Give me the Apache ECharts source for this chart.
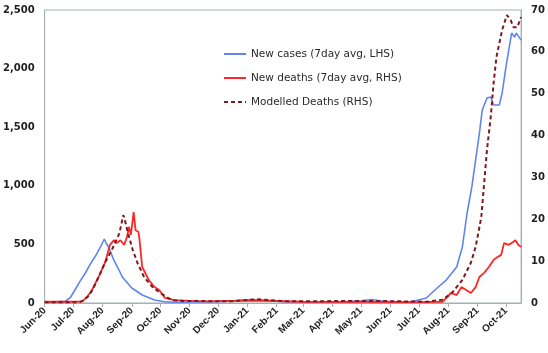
<!DOCTYPE html>
<html lang="en">
<head>
    <meta charset="UTF-8">
    <title>Cases and deaths</title>
    <script src="https://cdn.jsdelivr.net/npm/echarts@6/dist/echarts.min.js"></script>
    <style>
        html, body { margin: 0; padding: 0; background: #fff; }
    </style>
</head>
<body>
<div id="main" style="width: 548px;height:353px;"></div>
<script type="text/javascript">
    // daily categories Jun-20 .. mid Oct-21
    var categories = [];
    for (var t = Date.UTC(2020, 5, 1); t <= Date.UTC(2021, 9, 17); t += 86400000) {
        categories.push(new Date(t).toISOString().slice(0, 10));
    }
    var monthNames = ['Jan', 'Feb', 'Mar', 'Apr', 'May', 'Jun', 'Jul', 'Aug', 'Sep', 'Oct', 'Nov', 'Dec'];

    var seriesNames = ['New cases (7day avg, LHS)', 'New deaths (7day avg, RHS)', 'Modelled Deaths (RHS)'];

    // LHS
    var casesData = [
        ['2020-06-01', 8], ['2020-06-12', 10], ['2020-06-23', 15], ['2020-06-28', 45], ['2020-07-03', 111],
        ['2020-07-08', 180], ['2020-07-14', 256], ['2020-07-19', 330], ['2020-07-24', 392], ['2020-07-30', 478],
        ['2020-08-03', 546], ['2020-08-05', 510], ['2020-08-08', 469], ['2020-08-13', 367], ['2020-08-18', 290],
        ['2020-08-22', 222], ['2020-09-01', 128], ['2020-09-12', 68], ['2020-09-25', 26], ['2020-10-06', 10],
        ['2020-10-20', 6], ['2020-11-10', 8], ['2020-12-01', 12], ['2020-12-20', 20], ['2021-01-05', 30],
        ['2021-01-20', 22], ['2021-02-10', 12], ['2021-03-10', 8], ['2021-04-10', 10], ['2021-05-01', 18],
        ['2021-05-12', 30], ['2021-05-25', 15], ['2021-06-10', 10], ['2021-06-21', 10], ['2021-07-01', 25],
        ['2021-07-09', 43], ['2021-07-18', 111], ['2021-07-30', 196], ['2021-08-10', 307], ['2021-08-16', 478],
        ['2021-08-21', 768], ['2021-08-26', 990], ['2021-08-30', 1220], ['2021-09-03', 1450], ['2021-09-06', 1646],
        ['2021-09-11', 1749], ['2021-09-15', 1757], ['2021-09-18', 1689], ['2021-09-24', 1689], ['2021-09-27', 1791],
        ['2021-10-01', 2013], ['2021-10-04', 2158], ['2021-10-07', 2303], ['2021-10-10', 2269], ['2021-10-12', 2303],
        ['2021-10-17', 2243]
    ];

    // RHS
    var deathsData = [
        ['2020-06-01', 0.3], ['2020-07-01', 0.3], ['2020-07-11', 0.4], ['2020-07-16', 1.5], ['2020-07-21', 3.1],
        ['2020-07-29', 6.7], ['2020-08-04', 9.8], ['2020-08-09', 13.9], ['2020-08-13', 15], ['2020-08-16', 14.3],
        ['2020-08-20', 15], ['2020-08-24', 13.9], ['2020-08-27', 15.8], ['2020-08-29', 18.2], ['2020-08-31', 16.3],
        ['2020-09-03', 21.7], ['2020-09-05', 17.4], ['2020-09-08', 17], ['2020-09-09', 15.5], ['2020-09-12', 8.6],
        ['2020-09-19', 5.5], ['2020-09-25', 3.8], ['2020-09-30', 3.1], ['2020-10-06', 1.2], ['2020-10-16', 0.7],
        ['2020-11-15', 0.4], ['2021-01-10', 0.6], ['2021-03-01', 0.3], ['2021-07-01', 0.2], ['2021-07-26', 0.3],
        ['2021-07-31', 1.4], ['2021-08-04', 2.4], ['2021-08-10', 1.9], ['2021-08-15', 3.8], ['2021-08-20', 3.1],
        ['2021-08-25', 2.4], ['2021-08-30', 3.8], ['2021-09-03', 6.2], ['2021-09-08', 7.2], ['2021-09-13', 8.6],
        ['2021-09-18', 10.3], ['2021-09-21', 10.8], ['2021-09-26', 11.5], ['2021-09-29', 14.3], ['2021-10-04', 13.9],
        ['2021-10-07', 14.3], ['2021-10-11', 15], ['2021-10-14', 13.9], ['2021-10-17', 13.4]
    ];

    // RHS
    var modelledData = [
        ['2020-06-01', 0.2], ['2020-07-08', 0.2], ['2020-07-13', 0.8], ['2020-07-18', 1.8], ['2020-07-23', 3.8],
        ['2020-07-29', 6.7], ['2020-08-04', 9.8], ['2020-08-11', 12.7], ['2020-08-19', 16.7], ['2020-08-23', 21],
        ['2020-08-24', 20.5], ['2020-08-28', 16.7], ['2020-09-02', 12.7], ['2020-09-07', 9.6], ['2020-09-14', 6.2],
        ['2020-09-23', 3.8], ['2020-10-01', 2.4], ['2020-10-13', 0.7], ['2020-10-25', 0.5], ['2020-12-15', 0.4],
        ['2021-01-10', 0.9], ['2021-02-10', 0.4], ['2021-05-15', 0.5], ['2021-07-10', 0.3], ['2021-07-26', 0.8],
        ['2021-08-05', 2.4], ['2021-08-16', 5.5], ['2021-08-25', 9.6], ['2021-08-30', 13.4], ['2021-09-05', 20.5],
        ['2021-09-08', 28.6], ['2021-09-11', 36.6], ['2021-09-15', 44.5], ['2021-09-18', 52.6], ['2021-09-21', 58.8],
        ['2021-09-27', 65.2], ['2021-10-02', 68.8], ['2021-10-06', 67.6], ['2021-10-09', 65.9], ['2021-10-13', 65.9],
        ['2021-10-17', 68.3]
    ];

    var leftTicks = [0, 2500, 500];
    var rightTicks = [0, 70, 10];

    var axisColor = '#a3b2b0';
    var labelColor = '#1f1f1f';

    var isMonthStart = function (index, value) {
        return value.slice(8) === '01';
    };

    var myChart = echarts.init(document.getElementById('main'));
    var option = {
        animation: false,
        grid: {
            left: 42,
            right: 26,
            top: 10,
            bottom: 50,
            show: true,
            borderColor: axisColor,
            borderWidth: 1
        },
        legend: {
            orient: 'vertical',
            left: 223,
            top: 48,
            padding: 0,
            itemWidth: 22,
            itemHeight: 12,
            itemGap: 12,
            data: seriesNames,
            itemStyle: {opacity: 0},
            textStyle: {
                fontFamily: 'DejaVu Sans',
                fontSize: 10.5,
                lineHeight: 12,
                color: '#2a2a2a'
            }
        },
        xAxis: {
            type: 'category',
            data: categories,
            boundaryGap: false,
            axisLine: {lineStyle: {color: axisColor}},
            axisTick: {
                interval: isMonthStart,
                length: 4,
                lineStyle: {color: axisColor}
            },
            axisLabel: {
                interval: isMonthStart,
                rotate: 45,
                margin: 6,
                fontFamily: 'Liberation Sans',
                fontWeight: 'bold',
                fontSize: 10,
                color: labelColor,
                formatter: function (value) {
                    var m = parseInt(value.slice(5, 7), 10) - 1;
                    return monthNames[m] + '-' + value.slice(2, 4);
                }
            },
            splitLine: {show: false}
        },
        yAxis: [
            {
                type: 'value',
                min: leftTicks[0],
                max: leftTicks[1],
                interval: leftTicks[2],
                axisLine: {show: true, lineStyle: {color: axisColor}},
                axisTick: {show: false},
                splitLine: {show: false},
                axisLabel: {
                    margin: 10,
                    fontFamily: 'DejaVu Sans',
                    fontWeight: 'bold',
                    fontSize: 10,
                    color: labelColor,
                    formatter: function (v) {
                        return v.toLocaleString('en-US');
                    }
                }
            },
            {
                type: 'value',
                min: rightTicks[0],
                max: rightTicks[1],
                interval: rightTicks[2],
                axisLine: {show: true, lineStyle: {color: axisColor}},
                axisTick: {show: false},
                splitLine: {show: false},
                axisLabel: {
                    margin: 10,
                    fontFamily: 'DejaVu Sans',
                    fontWeight: 'bold',
                    fontSize: 10,
                    color: labelColor
                }
            }
        ],
        series: [
            {
                name: seriesNames[0],
                type: 'line',
                yAxisIndex: 0,
                symbol: 'none',
                data: casesData,
                lineStyle: {color: '#6185f0', width: 1.6},
                itemStyle: {color: '#6185f0'}
            },
            {
                name: seriesNames[1],
                type: 'line',
                yAxisIndex: 1,
                symbol: 'none',
                data: deathsData,
                lineStyle: {color: '#ff2626', width: 1.8},
                itemStyle: {color: '#ff2626'}
            },
            {
                name: seriesNames[2],
                type: 'line',
                yAxisIndex: 1,
                symbol: 'none',
                data: modelledData,
                lineStyle: {color: '#7d1a1e', width: 2, type: [4, 3]},
                itemStyle: {color: '#7d1a1e'}
            }
        ]
    };
    myChart.setOption(option);
</script>
</body>
</html>
